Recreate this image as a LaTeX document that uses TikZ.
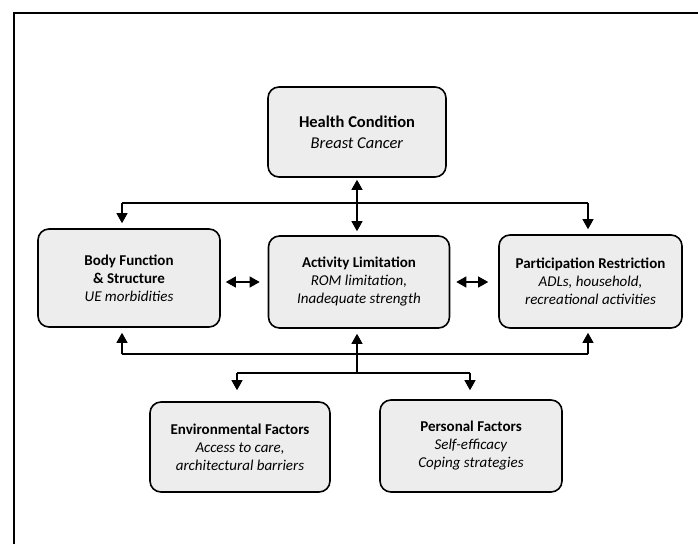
\documentclass[tikz,border=0pt]{standalone}
\usepackage{fontspec}
\setmainfont{Carlito}
\usetikzlibrary{arrows.meta}
\begin{document}
\begin{tikzpicture}[x=1pt,y=-1pt,
  box/.style={draw=black, line width=1.6pt, rounded corners=11pt, fill=black!7,
    align=center, inner sep=2pt, font=\fontsize{15}{18}\selectfont},
  conn/.style={line width=1.1pt, draw=black},
  tip/.style={-{Triangle[length=10pt,width=11pt]}},
  dtip/.style={{Triangle[length=10pt,width=11pt]}-{Triangle[length=10pt,width=11pt]}}]
\useasboundingbox (0,0) rectangle (698,544);
\draw[line width=2.4pt] (14,544) -- (14,13) -- (698,13);

\node[box, minimum width=178pt, minimum height=90pt, font=\fontsize{16.5}{21}\selectfont] (health) at (357,132)
  {\textbf{Health Condition}\\\textit{Breast Cancer}};
\node[box, minimum width=182pt, minimum height=98pt] (body) at (129,278)
  {\textbf{Body Function}\\\textbf{\& Structure}\\\textit{UE morbidities}};
\node[box, minimum width=181pt, minimum height=92pt] (act) at (359,282)
  {\textbf{Activity Limitation}\\\textit{ROM limitation,}\\\textit{Inadequate strength}};
\node[box, minimum width=183pt, minimum height=93pt] (part) at (590.5,281.5)
  {\textbf{Participation Restriction}\\\textit{ADLs, household,}\\\textit{recreational activities}};
\node[box, minimum width=180pt, minimum height=90pt] (env) at (240,447)
  {\textbf{Environmental Factors}\\\textit{Access to care,}\\\textit{architectural barriers}};
\node[box, minimum width=182pt, minimum height=92pt] (pers) at (471,446)
  {\textbf{Personal Factors}\\\textit{Self-efficacy}\\\textit{Coping strategies}};

% top distribution
\coordinate (tl) at (122,203);
\coordinate (tr) at (588,203);
\coordinate (tm) at (357,203);
\draw[conn] (tl) -- (tr);
\draw[conn,tip,shorten >=5pt] (tl) -- (tl |- body.north);
\draw[conn,tip,shorten >=5pt] (tr) -- (tr |- part.north);
\draw[conn,dtip,shorten <=2pt,shorten >=4pt] (tm |- health.south) -- (tm |- act.north);

% horizontal double arrows
\coordinate (m1) at (0,282);
\draw[conn,dtip,shorten <=5pt,shorten >=8pt] (body.east |- m1) -- (act.west |- m1);
\draw[conn,dtip,shorten <=6pt,shorten >=10pt] (act.east |- m1) -- (part.west |- m1);

% bottom distribution
\coordinate (bl) at (122,354);
\coordinate (br) at (588,354);
\coordinate (bm) at (357,373);
\coordinate (el) at (237,373);
\coordinate (er) at (470,373);
\draw[conn] (bl) -- (br);
\draw[conn,tip,shorten >=5pt] (bl) -- (bl |- body.south);
\draw[conn,tip,shorten >=4pt] (br) -- (br |- part.south);
\draw[conn,tip,shorten >=5pt] (bm) -- (bm |- act.south);
\draw[conn] (el) -- (er);
\draw[conn,tip,shorten >=11pt] (el) -- (el |- env.north);
\draw[conn,tip,shorten >=9pt] (er) -- (er |- pers.north);
\end{tikzpicture}
\end{document}
